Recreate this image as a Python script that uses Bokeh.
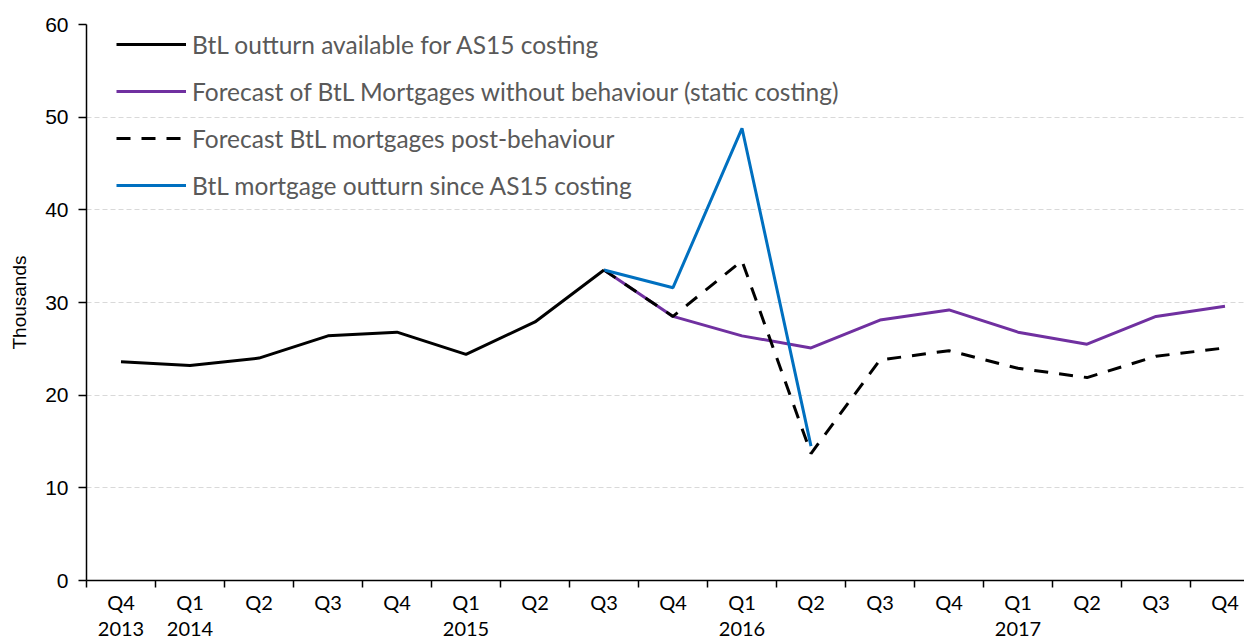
from bokeh.plotting import figure
from bokeh.models import Range1d, FixedTicker, Legend, LegendItem
from bokeh.embed import file_html
from bokeh.resources import INLINE

quarters = ["Q4", "Q1", "Q2", "Q3", "Q4", "Q1", "Q2", "Q3", "Q4",
            "Q1", "Q2", "Q3", "Q4", "Q1", "Q2", "Q3", "Q4"]
years = ["2013", "2014", "", "", "", "2015", "", "", "",
         "2016", "", "", "", "2017", "", "", ""]

outturn = [23.6, 23.2, 24.0, 26.4, 26.8, 24.4, 27.9, 33.5]          # Q4 2013 - Q3 2015
static_fc = [33.5, 28.5, 26.4, 25.1, 28.1, 29.2, 26.8, 25.5, 28.5, 29.6]  # Q3 2015 - Q4 2017
behav_fc = [33.5, 28.5, 34.5, 13.7, 23.8, 24.8, 22.9, 21.9, 24.2, 25.1]   # Q3 2015 - Q4 2017
since_as15 = [33.5, 31.6, 48.8, 14.5]                                # Q3 2015 - Q2 2016

start_outturn = 0
start_fc = 7

x_out = list(range(start_outturn, start_outturn + len(outturn)))
x_static = list(range(start_fc, start_fc + len(static_fc)))
x_behav = list(range(start_fc, start_fc + len(behav_fc)))
x_since = list(range(start_fc, start_fc + len(since_as15)))

W, H = 1244, 642
p = figure(width=W, height=H, output_backend="svg", toolbar_location=None,
           x_range=Range1d(-0.5, -0.5 + (W - 86) / 69.0), y_range=Range1d(0, 60),
           min_border_left=86, min_border_right=0, min_border_top=24, min_border_bottom=50)
p.outline_line_color = None
p.background_fill_color = "white"
p.border_fill_color = "white"

r_static = p.line(x_static, static_fc, line_color="#7030A0", line_width=3)
r_behav = p.line(x_behav, behav_fc, line_color="black", line_width=3, line_dash="14 11")
r_since = p.line(x_since, since_as15, line_color="#0070C0", line_width=3)
r_out = p.line(x_out, outturn, line_color="black", line_width=3)

# x axis
p.xaxis.ticker = FixedTicker(ticks=list(range(len(quarters))),
                             minor_ticks=[i - 0.5 for i in range(len(quarters) + 1)])
p.xaxis.major_label_overrides = {i: (q + ("\n" + y if y else "")) for i, (q, y) in enumerate(zip(quarters, years))}
p.xaxis.major_tick_line_color = None
p.xaxis.major_tick_out = 0
p.xaxis.major_tick_in = 0
p.xaxis.minor_tick_line_color = "black"
p.xaxis.minor_tick_line_width = 1.5
p.xaxis.minor_tick_out = 7
p.xaxis.minor_tick_in = 0
p.xaxis.major_label_standoff = 2
p.xaxis.major_label_text_font = "Lato"
p.xaxis.major_label_text_font_size = "20px"
p.xaxis.major_label_text_line_height = 1.1
p.xaxis.major_label_text_color = "black"
p.xaxis.axis_line_color = "black"
p.xaxis.axis_line_width = 1.5

# y axis
p.yaxis.ticker = FixedTicker(ticks=[0, 10, 20, 30, 40, 50, 60])
p.yaxis.minor_tick_line_color = None
p.yaxis.major_tick_out = 8
p.yaxis.major_tick_in = 0
p.yaxis.major_tick_line_width = 1.5
p.yaxis.major_tick_line_color = "black"
p.yaxis.axis_line_color = "black"
p.yaxis.axis_line_width = 1.5
p.yaxis.major_label_standoff = 10
p.yaxis.major_label_text_font = "Liberation Sans"
p.yaxis.major_label_text_font_size = "21px"
p.yaxis.major_label_text_color = "black"
p.yaxis.axis_label = "Thousands"
p.yaxis.axis_label_text_font = "Liberation Sans"
p.yaxis.axis_label_text_font_size = "19px"
p.yaxis.axis_label_text_font_style = "normal"
p.yaxis.axis_label_text_color = "black"
p.yaxis.axis_label_standoff = 12

p.xgrid.grid_line_color = None
p.ygrid.grid_line_color = "#D9D9D9"
p.ygrid.grid_line_dash = "5 3"
p.ygrid.grid_line_width = 1.2

legend = Legend(items=[
    LegendItem(label="BtL outturn available for AS15 costing", renderers=[r_out]),
    LegendItem(label="Forecast of BtL Mortgages without behaviour (static costing)", renderers=[r_static]),
    LegendItem(label="Forecast BtL mortgages post-behaviour", renderers=[r_behav]),
    LegendItem(label="BtL mortgage outturn since AS15 costing", renderers=[r_since]),
], location=(30, 380))
legend.border_line_color = None
legend.background_fill_alpha = 0
legend.padding = 0
legend.margin = 0
legend.glyph_width = 70
legend.glyph_height = 30
legend.label_height = 30
legend.spacing = 17
legend.label_standoff = 6
legend.label_text_font = "Lato"
legend.label_text_font_size = "24.5px"
legend.label_text_color = "#595959"
p.add_layout(legend)

open("out.html", "w").write(file_html(p, INLINE))
